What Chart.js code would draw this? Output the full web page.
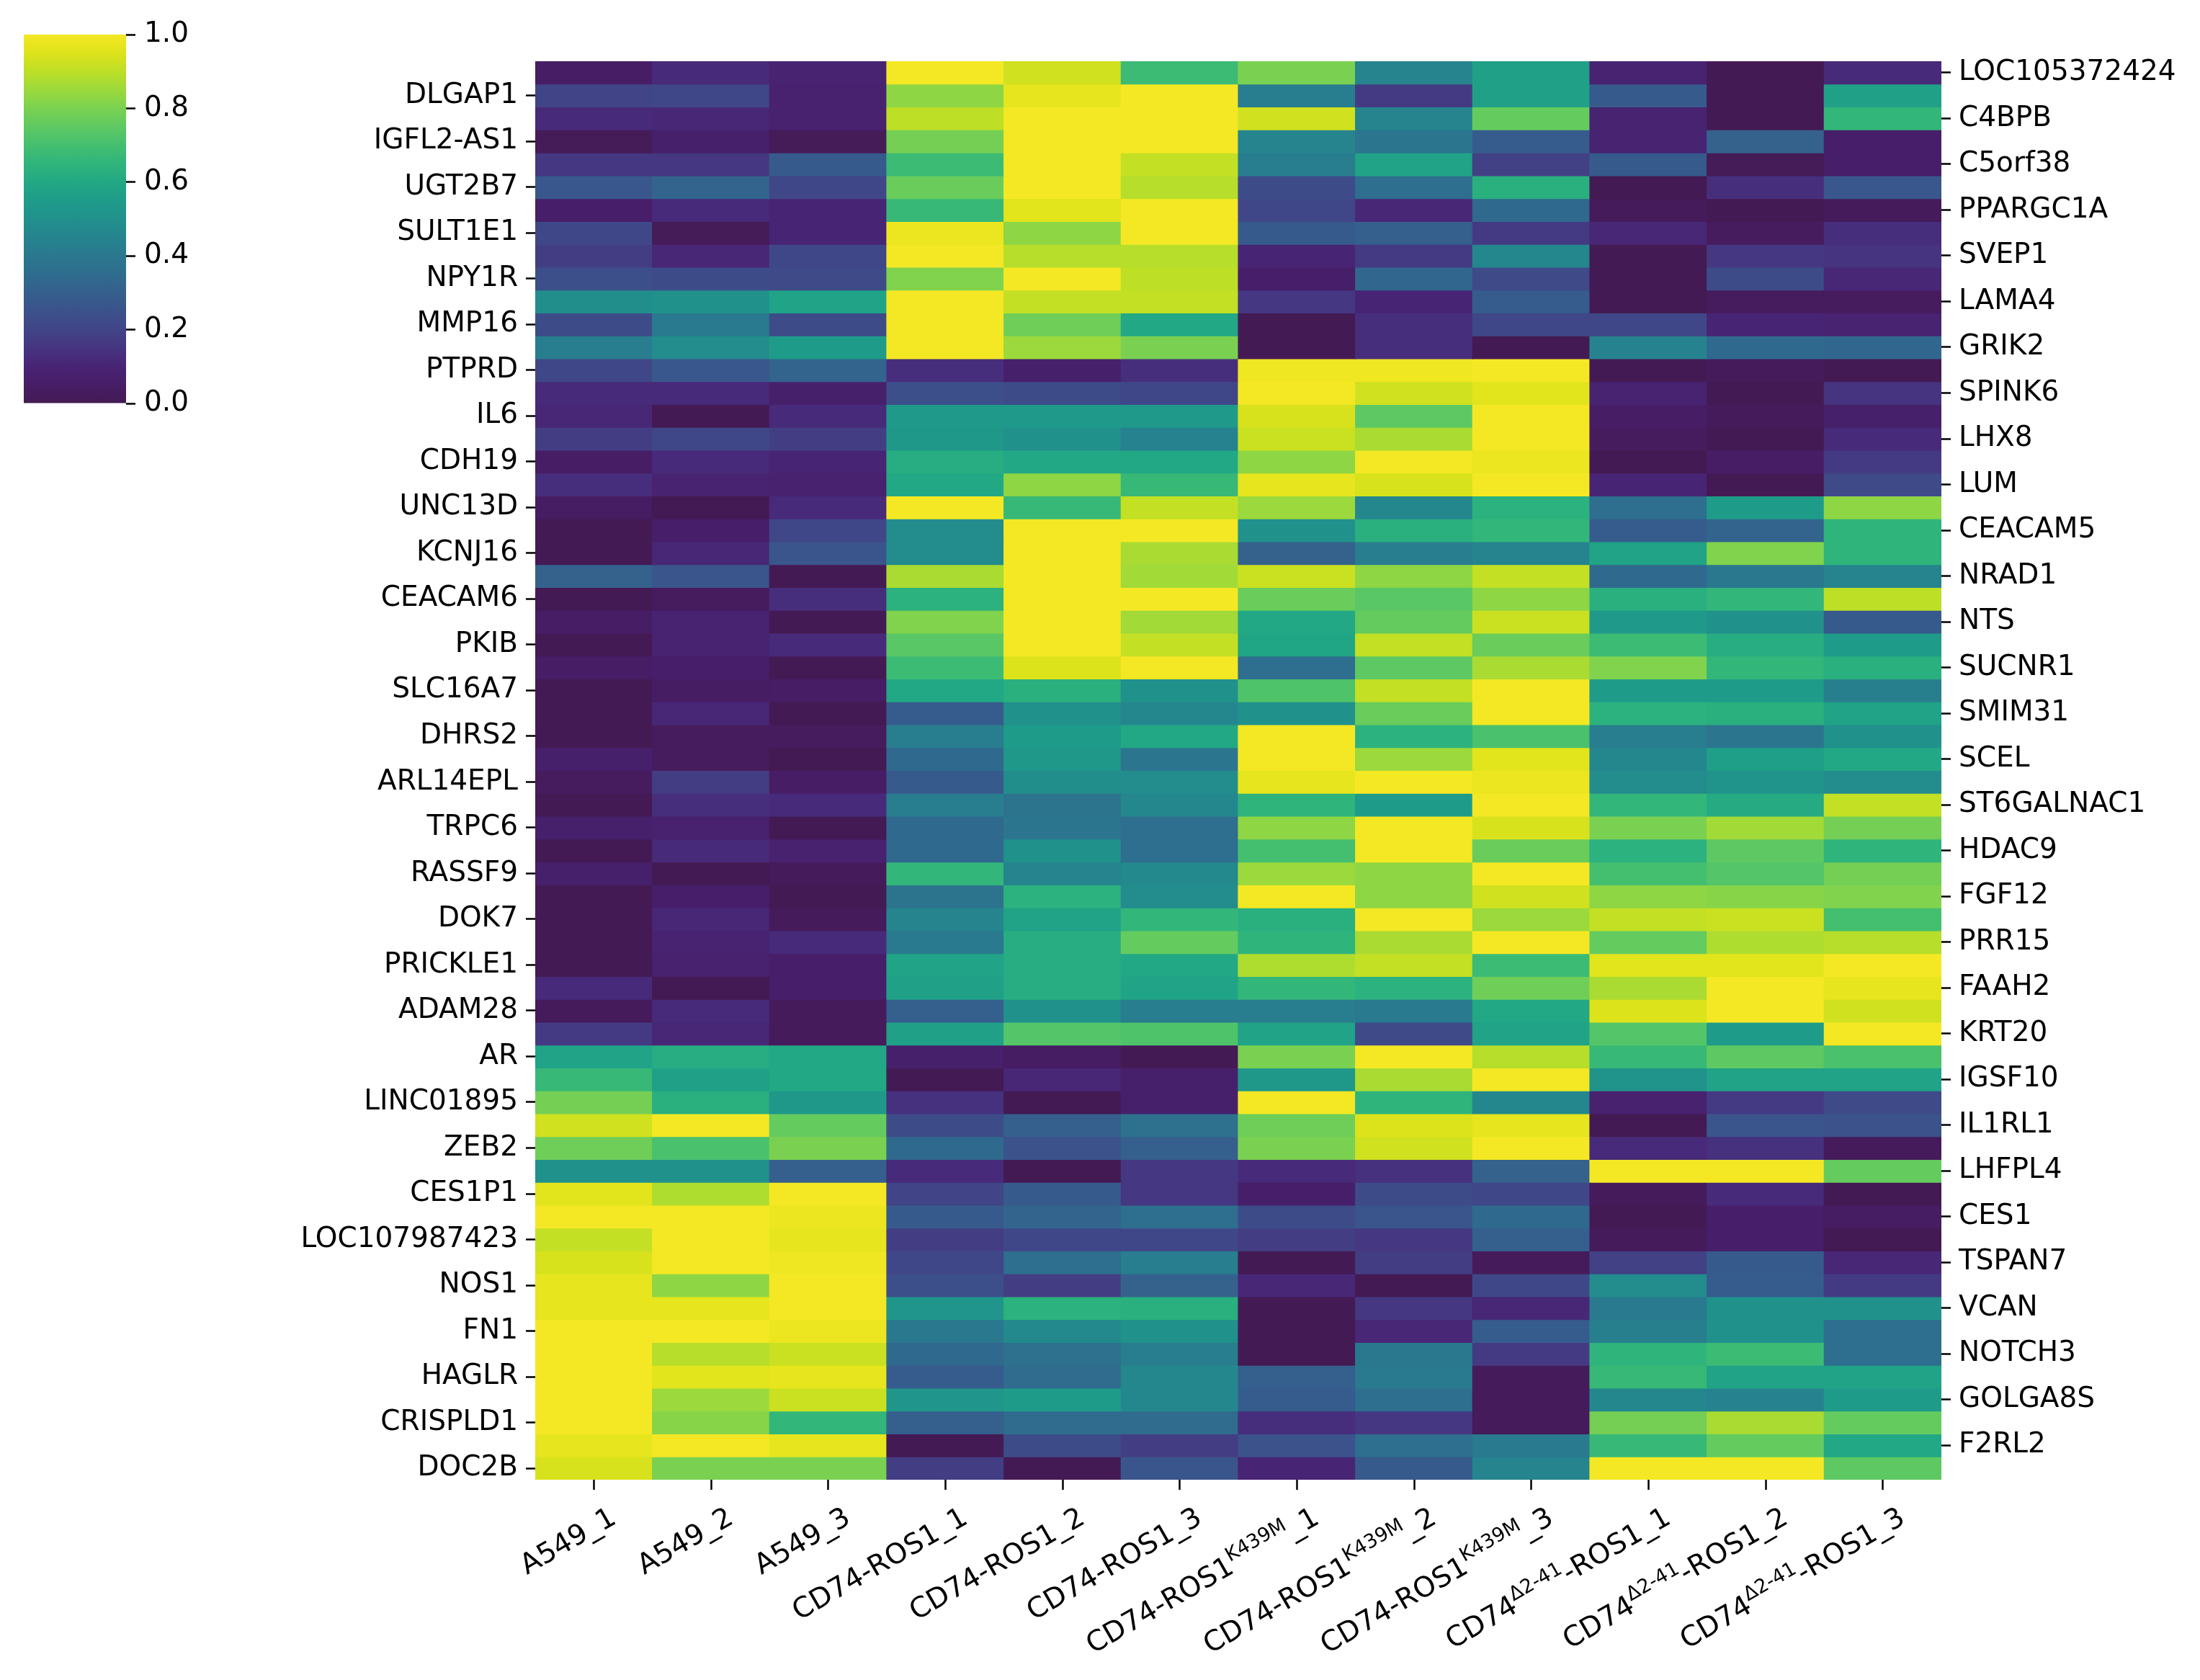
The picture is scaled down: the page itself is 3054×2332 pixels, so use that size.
<!DOCTYPE html>
<html><head><meta charset="utf-8">
<script src="https://cdn.jsdelivr.net/npm/chart.js@4.4.1/dist/chart.umd.min.js"></script>
<style>
html,body{margin:0;padding:0;background:#fff;}
#wrap{position:relative;width:3054px;height:2332px;background:#fff;}
#wrap canvas{position:absolute;left:0;top:0;}
</style>
</head><body>
<div id="wrap"><canvas id="main" width="3054" height="2332"></canvas><canvas id="cbar" width="320" height="620"></canvas></div>
<script>
// ---- data ----
const sampleParts = [
  ['A549_1','',''],['A549_2','',''],['A549_3','',''],
  ['CD74-ROS1_1','',''],['CD74-ROS1_2','',''],['CD74-ROS1_3','',''],
  ['CD74-ROS1','K439M','_1'],['CD74-ROS1','K439M','_2'],['CD74-ROS1','K439M','_3'],
  ['CD74','\u03942-41','-ROS1_1'],['CD74','\u03942-41','-ROS1_2'],['CD74','\u03942-41','-ROS1_3']
];
const leftGenes = ['DLGAP1','IGFL2-AS1','UGT2B7','SULT1E1','NPY1R','MMP16','PTPRD','IL6','CDH19','UNC13D','KCNJ16','CEACAM6','PKIB','SLC16A7','DHRS2','ARL14EPL','TRPC6','RASSF9','DOK7','PRICKLE1','ADAM28','AR','LINC01895','ZEB2','CES1P1','LOC107987423','NOS1','FN1','HAGLR','CRISPLD1','DOC2B'];
const rightGenes = ['LOC105372424','C4BPB','C5orf38','PPARGC1A','SVEP1','LAMA4','GRIK2','SPINK6','LHX8','LUM','CEACAM5','NRAD1','NTS','SUCNR1','SMIM31','SCEL','ST6GALNAC1','HDAC9','FGF12','PRR15','FAAH2','KRT20','IGSF10','IL1RL1','LHFPL4','CES1','TSPAN7','VCAN','NOTCH3','GOLGA8S','F2RL2'];
// one row per gene (top to bottom), one value per sample
const expr = [
[0.05,0.12,0.09,1.00,0.93,0.68,0.80,0.45,0.57,0.09,0.00,0.12],
[0.20,0.21,0.08,0.83,0.97,1.00,0.42,0.17,0.57,0.28,0.00,0.57],
[0.12,0.11,0.08,0.90,1.00,1.00,0.93,0.45,0.76,0.09,0.00,0.66],
[0.01,0.07,0.01,0.79,1.00,1.00,0.45,0.39,0.29,0.09,0.31,0.06],
[0.16,0.16,0.28,0.68,1.00,0.91,0.42,0.58,0.19,0.28,0.01,0.06],
[0.27,0.32,0.21,0.77,1.00,0.89,0.23,0.36,0.63,0.00,0.13,0.27],
[0.06,0.12,0.10,0.67,0.96,1.00,0.21,0.11,0.34,0.02,0.00,0.02],
[0.21,0.01,0.10,0.98,0.83,1.00,0.28,0.30,0.17,0.11,0.03,0.13],
[0.18,0.11,0.21,1.00,0.89,0.89,0.10,0.17,0.46,0.00,0.16,0.15],
[0.24,0.23,0.22,0.81,1.00,0.90,0.06,0.33,0.22,0.00,0.23,0.11],
[0.49,0.50,0.58,1.00,0.91,0.91,0.16,0.10,0.29,0.00,0.03,0.03],
[0.23,0.41,0.23,1.00,0.78,0.60,0.00,0.13,0.21,0.21,0.10,0.09],
[0.42,0.48,0.55,1.00,0.85,0.80,0.00,0.13,0.00,0.44,0.34,0.33],
[0.21,0.27,0.32,0.13,0.07,0.13,0.99,0.99,1.00,0.00,0.02,0.00],
[0.12,0.12,0.07,0.24,0.23,0.21,1.00,0.93,0.96,0.09,0.00,0.15],
[0.11,0.00,0.12,0.54,0.54,0.54,0.94,0.75,1.00,0.05,0.02,0.07],
[0.18,0.21,0.18,0.53,0.50,0.44,0.92,0.87,1.00,0.03,0.00,0.12],
[0.05,0.12,0.10,0.62,0.60,0.60,0.83,1.00,0.98,0.00,0.05,0.17],
[0.13,0.09,0.08,0.60,0.83,0.67,0.97,0.94,1.00,0.10,0.00,0.22],
[0.04,0.00,0.12,1.00,0.67,0.91,0.85,0.46,0.64,0.36,0.55,0.83],
[0.00,0.06,0.21,0.48,1.00,1.00,0.50,0.63,0.66,0.29,0.32,0.65],
[0.00,0.11,0.26,0.48,1.00,0.87,0.31,0.42,0.45,0.58,0.81,0.65],
[0.31,0.26,0.00,0.87,1.00,0.86,0.92,0.83,0.91,0.34,0.40,0.45],
[0.00,0.03,0.13,0.64,1.00,1.00,0.77,0.74,0.83,0.63,0.66,0.90],
[0.05,0.09,0.00,0.81,1.00,0.86,0.60,0.76,0.92,0.54,0.50,0.28],
[0.00,0.09,0.12,0.74,1.00,0.91,0.59,0.91,0.77,0.68,0.62,0.55],
[0.05,0.06,0.00,0.68,0.95,1.00,0.36,0.75,0.87,0.81,0.66,0.63],
[0.00,0.04,0.05,0.60,0.63,0.50,0.72,0.91,1.00,0.55,0.55,0.43],
[0.00,0.11,0.00,0.29,0.50,0.46,0.50,0.77,1.00,0.64,0.63,0.58],
[0.00,0.03,0.03,0.42,0.55,0.60,1.00,0.64,0.71,0.42,0.39,0.50],
[0.07,0.03,0.00,0.34,0.53,0.39,1.00,0.85,0.96,0.46,0.56,0.60],
[0.03,0.18,0.05,0.28,0.49,0.48,0.97,1.00,0.98,0.48,0.51,0.48],
[0.00,0.13,0.12,0.42,0.38,0.46,0.65,0.55,1.00,0.66,0.61,0.91],
[0.07,0.08,0.00,0.34,0.39,0.36,0.83,1.00,0.94,0.80,0.86,0.79],
[0.00,0.12,0.08,0.34,0.50,0.36,0.70,1.00,0.77,0.64,0.75,0.65],
[0.07,0.00,0.02,0.66,0.45,0.47,0.85,0.83,1.00,0.70,0.73,0.79],
[0.00,0.06,0.00,0.38,0.64,0.48,1.00,0.83,0.93,0.83,0.82,0.81],
[0.00,0.11,0.02,0.45,0.58,0.66,0.63,1.00,0.85,0.91,0.92,0.70],
[0.00,0.09,0.12,0.41,0.62,0.76,0.65,0.87,1.00,0.76,0.88,0.89],
[0.00,0.08,0.06,0.58,0.62,0.60,0.88,0.91,0.68,0.96,0.96,1.00],
[0.12,0.00,0.06,0.57,0.62,0.58,0.66,0.64,0.78,0.87,1.00,0.97],
[0.02,0.12,0.02,0.30,0.50,0.42,0.42,0.41,0.60,0.95,1.00,0.93],
[0.17,0.11,0.02,0.57,0.73,0.72,0.58,0.22,0.58,0.73,0.55,1.00],
[0.58,0.62,0.60,0.07,0.04,0.00,0.80,1.00,0.89,0.67,0.75,0.71],
[0.67,0.57,0.60,0.00,0.11,0.07,0.53,0.87,1.00,0.51,0.58,0.58],
[0.79,0.63,0.53,0.14,0.00,0.07,1.00,0.65,0.46,0.08,0.17,0.22],
[0.93,1.00,0.76,0.23,0.30,0.37,0.78,0.95,0.97,0.00,0.26,0.25],
[0.78,0.71,0.80,0.34,0.25,0.30,0.80,0.93,1.00,0.12,0.14,0.02],
[0.50,0.50,0.30,0.12,0.00,0.16,0.12,0.14,0.31,1.00,1.00,0.76],
[0.96,0.88,1.00,0.20,0.28,0.16,0.06,0.23,0.21,0.02,0.12,0.00],
[1.00,1.00,0.98,0.28,0.32,0.36,0.23,0.26,0.34,0.00,0.06,0.04],
[0.91,1.00,0.97,0.18,0.21,0.21,0.18,0.16,0.30,0.02,0.06,0.00],
[0.94,1.00,0.99,0.21,0.36,0.42,0.00,0.18,0.02,0.19,0.28,0.11],
[0.97,0.83,1.00,0.24,0.18,0.31,0.11,0.00,0.21,0.48,0.29,0.17],
[0.97,0.97,1.00,0.52,0.64,0.63,0.00,0.16,0.11,0.41,0.50,0.50],
[1.00,1.00,0.98,0.40,0.47,0.50,0.00,0.11,0.29,0.43,0.50,0.36],
[1.00,0.89,0.92,0.34,0.37,0.42,0.00,0.40,0.17,0.65,0.68,0.36],
[1.00,0.96,0.97,0.29,0.35,0.46,0.30,0.41,0.02,0.67,0.58,0.58],
[1.00,0.85,0.92,0.52,0.55,0.46,0.29,0.36,0.02,0.46,0.44,0.55],
[1.00,0.82,0.66,0.30,0.35,0.35,0.13,0.16,0.02,0.79,0.87,0.76],
[0.97,1.00,0.97,0.00,0.23,0.18,0.25,0.36,0.41,0.67,0.76,0.60],
[0.94,0.80,0.80,0.18,0.00,0.26,0.10,0.28,0.45,1.00,1.00,0.75]
];
const colorbarTicks = [0, 0.2, 0.4, 0.6, 0.8, 1.0];

// ---- colour map (viridis) ----
const VIR = ['#441a54','#471d66','#482475','#463480','#414487','#3b528b','#355f8d','#2f6c8e','#2a788e','#25848e','#21918c','#1e9c89','#22a884','#2fb47c','#44bf70','#5ec962','#7ad151','#9bd93c','#bddf26','#dde31a','#f4e824'];
function hex2rgb(h){return [parseInt(h.slice(1,3),16),parseInt(h.slice(3,5),16),parseInt(h.slice(5,7),16)];}
const VIRRGB = VIR.map(hex2rgb);
function viridis(v){
  v = Math.max(0, Math.min(1, v));
  const p = v * (VIR.length - 1), i = Math.min(Math.floor(p), VIR.length - 2), t = p - i;
  const a = VIRRGB[i], b = VIRRGB[i+1];
  return 'rgb(' + a.map((c,k)=>Math.round(c + (b[k]-c)*t)).join(',') + ')';
}

const FONT = 'DejaVu Sans';
const FS = 39;
const nRows = expr.length;

const datasets = expr.map((row, r) => ({
  data: row.map(() => [r, r + 1]),
  backgroundColor: row.map(viridis),
  borderWidth: 0,
  barPercentage: 1,
  categoryPercentage: 1,
  grouped: false,
  inflateAmount: 0.6,
  xAxisID: 'x',
  yAxisID: 'y'
}));

const xLabelPlugin = {
  id: 'xlabels',
  afterDraw(chart) {
    const c = chart.ctx, xs = chart.scales.x;
    const supFS = Math.round(FS * 0.7);
    c.save();
    c.fillStyle = '#000';
    c.textAlign = 'left';
    c.textBaseline = 'alphabetic';
    sampleParts.forEach((p, i) => {
      const x = xs.getPixelForValue(i);
      const y = xs.top + 28;
      c.save();
      c.translate(x + 15, y);
      c.rotate(-Math.PI / 6);
      c.font = FS + 'px "' + FONT + '"';
      const w0 = c.measureText(p[0]).width, w2 = p[2] ? c.measureText(p[2]).width : 0;
      c.font = supFS + 'px "' + FONT + '"';
      const w1 = p[1] ? c.measureText(p[1]).width : 0;
      let cx = -(w0 + w1 + w2);
      const by = FS * 0.93;
      c.font = FS + 'px "' + FONT + '"';
      c.fillText(p[0], cx, by); cx += w0;
      if (p[1]) { c.font = supFS + 'px "' + FONT + '"'; c.fillText(p[1], cx, by - FS * 0.40); cx += w1; }
      if (p[2]) { c.font = FS + 'px "' + FONT + '"'; c.fillText(p[2], cx, by); }
      c.restore();
    });
    c.restore();
  }
};

const yAxisCommon = {
  type: 'linear', min: 0, max: nRows, reverse: true,
  grid: { drawOnChartArea: false, drawTicks: true, tickLength: 13, tickWidth: 2.5, tickColor: '#000' },
  border: { display: false },
  ticks: { autoSkip: false, font: { family: FONT, size: FS }, color: '#000', padding: 11 }
};

new Chart(document.getElementById('main'), {
  type: 'bar',
  data: { labels: sampleParts.map(p => p.join('')), datasets },
  options: {
    responsive: false, animation: false, devicePixelRatio: 1,
    layout: { padding: { top: 85, left: 0, right: 0, bottom: 0 } },
    plugins: { legend: { display: false }, tooltip: { enabled: false } },
    scales: {
      x: {
        type: 'category', offset: true,
        grid: { offset: false, drawOnChartArea: false, drawTicks: true, tickLength: 14, tickWidth: 2.5, tickColor: '#000' },
        border: { display: false },
        ticks: { display: true, callback: () => '', autoSkip: false, maxRotation: 0 },
        afterFit: s => { s.height = 278; }
      },
      y: Object.assign({}, yAxisCommon, {
        position: 'left',
        ticks: Object.assign({}, yAxisCommon.ticks, { callback: (v, i) => leftGenes[i] }),
        afterBuildTicks: s => { s.ticks = leftGenes.map((g, i) => ({ value: 2 * i + 1.5 })); },
        afterFit: s => { s.width = 743; }
      }),
      y2: Object.assign({}, yAxisCommon, {
        position: 'right',
        ticks: Object.assign({}, yAxisCommon.ticks, { callback: (v, i) => rightGenes[i] }),
        afterBuildTicks: s => { s.ticks = rightGenes.map((g, i) => ({ value: 2 * i + 0.5 })); },
        afterFit: s => { s.width = 359; }
      })
    }
  },
  plugins: [xLabelPlugin]
});

// ---- colour bar ----
new Chart(document.getElementById('cbar'), {
  type: 'bar',
  data: { labels: [''], datasets: [{
    data: [[0, 1]],
    barPercentage: 1, categoryPercentage: 1, borderWidth: 0, inflateAmount: 0,
    backgroundColor: (ctx) => {
      const ch = ctx.chart, a = ch.chartArea;
      if (!a) return 'rgba(0,0,0,0)';
      const g = ch.ctx.createLinearGradient(0, a.bottom, 0, a.top);
      VIR.forEach((col, k) => g.addColorStop(k / (VIR.length - 1), col));
      return g;
    }
  }] },
  options: {
    responsive: false, animation: false, devicePixelRatio: 1,
    layout: { padding: { top: 48, left: 33, right: 0, bottom: 60 } },
    plugins: { legend: { display: false }, tooltip: { enabled: false } },
    scales: {
      x: { display: false },
      y: {
        position: 'right', min: 0, max: 1,
        afterBuildTicks: s => { s.ticks = colorbarTicks.map(v => ({ value: v })); },
        ticks: { callback: v => Number(v).toFixed(1), font: { family: FONT, size: FS }, color: '#000', padding: 12, autoSkip: false },
        grid: { drawOnChartArea: false, drawTicks: true, tickLength: 13, tickWidth: 2.5, tickColor: '#000' },
        border: { display: false },
        afterFit: s => { s.width = 145; }
      }
    }
  }
});
</script>
</body></html>
